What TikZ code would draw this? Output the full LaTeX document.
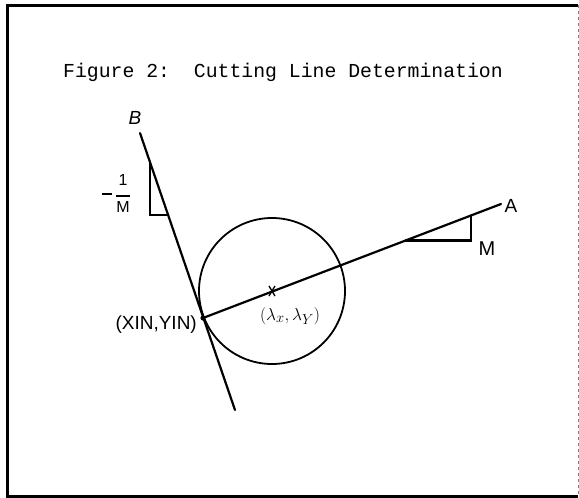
\documentclass[tikz,border=0pt]{standalone}
\usepackage{fontspec}
\setmainfont{Liberation Sans}
\newfontfamily\maquina{Liberation Mono}
\usetikzlibrary{calc}

\tikzset{
  trazo/.style={line width=2.2pt, line cap=round},
  marco/.style={line width=3pt},
  rotulo/.style={font=\fontsize{19}{22}\selectfont, inner sep=1pt},
}

\begin{document}
\begin{tikzpicture}[x=1pt, y=-1pt]
    \useasboundingbox (0,0) rectangle (579,498);

    % Marco de la figura
    \draw[marco] (578,5) -- (7,5) -- (7,496) -- (578,496);
    \draw[dashed, gray, thin] (578,5) -- (578,496);

    % Titulo
    \node[anchor=base west, inner sep=0pt, font=\maquina\fontsize{19.8}{24}\selectfont]
         (titulo) at (63,77) {Figure 2:\ \ Cutting Line Determination};

    % Puntos principales
    \coordinate (B0) at (140,133);
    \coordinate (B1) at (235,410);
    \coordinate (P)  at (203,318);
    \coordinate (C)  at (272,291);
    \coordinate (A0) at (501,204);

    % Circulo
    \draw[trazo, line width=1.8pt] (C) circle[radius=73];

    % Recta B (tangente)
    \draw[trazo] (B0) -- (B1);
    \node[rotulo, font=\itshape\fontsize{19}{22}\selectfont] (labB) at (135,118) {B};

    % Recta A (por el centro)
    \draw[trazo] (P) -- (A0);
    \node[rotulo] (labA) at (511,206) {A};
    \fill (P) circle[radius=2.6];

    % Triangulo de pendiente M
    \coordinate (Mt) at ($(P)!0.9!(A0)$);
    \coordinate (Mb) at ($(P)!0.68!(A0)$);
    \draw[trazo] (Mb) -- (Mb -| Mt) -- (Mt);
    \node[rotulo, font=\fontsize{20}{22}\selectfont] (labM) at (487,249) {M};

    % Triangulo de pendiente -1/M
    \coordinate (Nt) at ($(B0)!0.105!(B1)$);
    \coordinate (Nb) at ($(B0)!0.296!(B1)$);
    \draw[trazo] (Nt) -- (Nt |- Nb) -- (Nb);
    \node[rotulo, font=\fontsize{16}{18}\selectfont] (labN) at (116,195)
         {\raisebox{4pt}{\rule{10pt}{2pt}}\hspace{4pt}%
          \begin{tabular}{@{}c@{}}1\\[-6pt]\rule{14pt}{2pt}\\[-3pt]M\end{tabular}};

    % Centro del circulo
    \draw[line width=1.3pt] ($(C)+(-3,-5)$) -- ($(C)+(3,5)$);
    \draw[line width=1.3pt] ($(C)+(3,-5)$) -- ($(C)+(-3,5)$);
    \node[rotulo, font=\fontsize{19}{22}\selectfont] (labC) at (290,316)
         {$(\lambda_x,\lambda_Y)$};

    % Punto de entrada
    \node[rotulo, anchor=east] (labP) at (198,325) {(XIN,YIN)};
\end{tikzpicture}
\end{document}
